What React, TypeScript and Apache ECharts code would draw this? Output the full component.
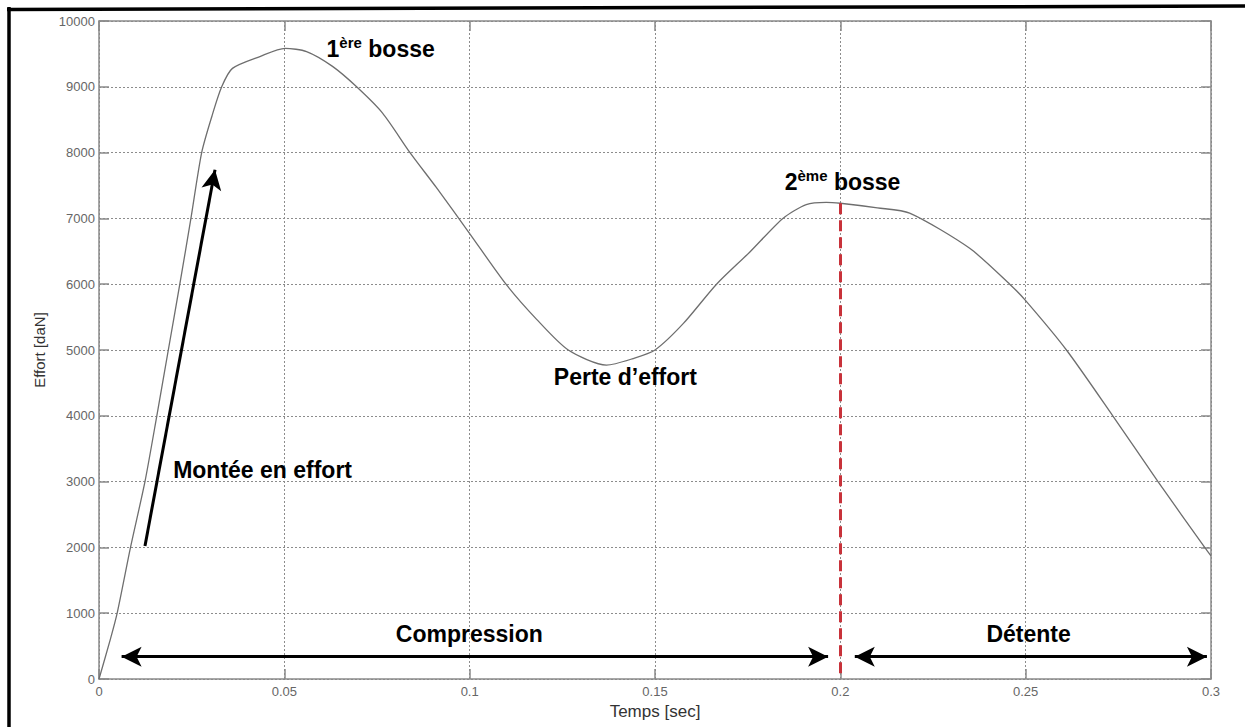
import { useEffect, useRef } from "react";
import * as echarts from "echarts";

// Force measured on the shock absorber over one stroke
const TIME = [
  0, 0.003, 0.0049, 0.0085, 0.0124, 0.0156, 0.0187, 0.0218, 0.0248, 0.0277,
  0.0305, 0.0331, 0.036, 0.0434, 0.0502, 0.056, 0.063, 0.0695, 0.0765, 0.0839,
  0.091, 0.1, 0.1098, 0.118, 0.1266, 0.1369, 0.1441, 0.15, 0.1576, 0.1666,
  0.1756, 0.1845, 0.1908, 0.1962, 0.2, 0.21, 0.2187, 0.2349, 0.2457, 0.25,
  0.261, 0.2735, 0.2857, 0.2983, 0.3,
];
const EFFORT = [
  0, 590, 1000, 2000, 3000, 4000, 5000, 6000, 7000, 8000,
  8560, 9000, 9280, 9460, 9585, 9535, 9310, 9000, 8600, 8000,
  7470, 6770, 6000, 5470, 5000, 4770, 4870, 5000, 5400, 6000,
  6490, 7000, 7210, 7245, 7230, 7160, 7080, 6545, 6000, 5750,
  5000, 4000, 3000, 2000, 1870,
];

const X_TICKS = [0, 0.05, 0.1, 0.15, 0.2, 0.25, 0.3];
const Y_TICKS = [0, 1000, 2000, 3000, 4000, 5000, 6000, 7000, 8000, 9000, 10000];

// Annotation anchors, in data units (time, effort)
const RISE_ARROW = [
  [0.0124, 2020],
  [0.0313, 7740],
];
const COMPRESSION_SPAN = [0.0061, 0.1967];
const DETENTE_SPAN = [0.2039, 0.2989];
const SPAN_LEVEL = 340;
const SPLIT_TIME = 0.2;
const SPLIT_EFFORT = 7230;

const LABELS = [
  { text: "Montée en effort", at: [0.02, 3170], align: "left" },
  { text: "{b|1}{s|ère}{b| bosse}", at: [0.0614, 9582], align: "left" },
  { text: "{b|2}{s|ème}{b| bosse}", at: [0.185, 7547], align: "left" },
  { text: "Perte d’effort", at: [0.1227, 4597], align: "left" },
  { text: "Compression", at: [0.0999, 684], align: "center" },
  { text: "Détente", at: [0.2508, 688], align: "center" },
];

const FONT = "'Liberation Sans', Arial, Helvetica, sans-serif";
const AXIS_GRAY = "#8a8a8a";

export default function App() {
  const ref = useRef<HTMLDivElement>(null);

  useEffect(() => {
    if (!ref.current) return;
    const chart = echarts.init(ref.current, undefined, { renderer: "svg" });

    const xMin = X_TICKS[0];
    const xMax = X_TICKS[X_TICKS.length - 1];
    const xStep = X_TICKS[1] - X_TICKS[0];
    const yMin = Y_TICKS[0];
    const yMax = Y_TICKS[Y_TICKS.length - 1];
    const yStep = Y_TICKS[1] - Y_TICKS[0];

    const tick = { show: true, inside: true, length: 10, lineStyle: { color: AXIS_GRAY, width: 1.5 } };
    const axisLine = { show: true, onZero: false, lineStyle: { color: AXIS_GRAY, width: 1.5 } };
    const grid = { show: true, lineStyle: { color: "#8c8c8c", width: 1, type: [2, 2] as number[] } };
    const tickLabel = { color: "#666", fontFamily: FONT, fontSize: 13 };

    const arrowLine = { color: "#000", width: 3, type: "solid" as const };

    const option: echarts.EChartsCoreOption = {
      animation: false,
      backgroundColor: "#fff",
      grid: { left: 99, right: 34, top: 21, bottom: 48 },
      xAxis: [
        {
          type: "value",
          min: xMin,
          max: xMax,
          interval: xStep,
          name: "Temps [sec]",
          nameLocation: "middle",
          nameGap: 22,
          nameTextStyle: { color: "#333", fontFamily: FONT, fontSize: 17 },
          axisLine,
          axisTick: tick,
          axisLabel: { ...tickLabel, margin: 6, formatter: (v: number) => String(v) },
          splitLine: grid,
        },
        {
          type: "value",
          position: "top",
          min: xMin,
          max: xMax,
          interval: xStep,
          axisLine,
          axisTick: tick,
          axisLabel: { show: false },
          splitLine: { show: false },
        },
      ],
      yAxis: [
        {
          type: "value",
          min: yMin,
          max: yMax,
          interval: yStep,
          name: "Effort [daN]",
          nameLocation: "middle",
          nameRotate: 90,
          nameGap: 52,
          nameTextStyle: { color: "#333", fontFamily: FONT, fontSize: 15 },
          axisLine,
          axisTick: tick,
          axisLabel: { ...tickLabel, margin: 4, formatter: (v: number) => String(v) },
          splitLine: grid,
        },
        {
          type: "value",
          position: "right",
          min: yMin,
          max: yMax,
          interval: yStep,
          axisLine,
          axisTick: tick,
          axisLabel: { show: false },
          splitLine: { show: false },
        },
      ],
      series: [
        {
          type: "line",
          data: TIME.map((t, i) => [t, EFFORT[i]]),
          showSymbol: false,
          smooth: 0.25,
          lineStyle: { color: "#6e6e6e", width: 1.3 },
          z: 3,
          markLine: {
            silent: true,
            animation: false,
            label: { show: false },
            emphasis: { disabled: true },
            data: [
              [
                { coord: [SPLIT_TIME, SPLIT_EFFORT], symbol: "none", lineStyle: { color: "#c8323a", width: 3, type: [11, 6] } },
                { coord: [SPLIT_TIME, 0], symbol: "none" },
              ],
              [
                { coord: RISE_ARROW[0], symbol: "none", lineStyle: arrowLine },
                { coord: RISE_ARROW[1], symbol: "arrow", symbolSize: [15, 20] },
              ],
              [
                { coord: [COMPRESSION_SPAN[0], SPAN_LEVEL], symbol: "arrow", symbolSize: [15, 20], lineStyle: arrowLine },
                { coord: [COMPRESSION_SPAN[1], SPAN_LEVEL], symbol: "arrow", symbolSize: [15, 20] },
              ],
              [
                { coord: [DETENTE_SPAN[0], SPAN_LEVEL], symbol: "arrow", symbolSize: [15, 20], lineStyle: arrowLine },
                { coord: [DETENTE_SPAN[1], SPAN_LEVEL], symbol: "arrow", symbolSize: [15, 20] },
              ],
            ],
          },
        },
      ],
    };

    chart.setOption(option);

    const textStyleBase = {
      fill: "#000",
      fontFamily: FONT,
      fontSize: 23,
      fontWeight: "bold",
      verticalAlign: "middle",
      rich: {
        b: { fontFamily: FONT, fontSize: 23, fontWeight: "bold", fill: "#000", lineHeight: 28 },
        s: { fontFamily: FONT, fontSize: 15, fontWeight: "bold", fill: "#000", lineHeight: 14, verticalAlign: "top" },
      },
    };

    const labelGraphics = LABELS.map((l) => {
      const [px, py] = chart.convertToPixel({ xAxisIndex: 0, yAxisIndex: 0 }, l.at) as number[];
      return {
        type: "text",
        x: px,
        y: py,
        z: 10,
        silent: true,
        style: { ...textStyleBase, text: l.text, align: l.align },
      };
    });

    // Thick outer frame (left and top edges)
    const frame = [
      { type: "line", silent: true, z: 20, shape: { x1: 9, y1: 7, x2: 9, y2: 727 }, style: { stroke: "#000", lineWidth: 3.5 } },
      { type: "line", silent: true, z: 20, shape: { x1: 7, y1: 9.5, x2: 1245, y2: 6 }, style: { stroke: "#000", lineWidth: 3.5 } },
    ];

    chart.setOption({ graphic: [...frame, ...labelGraphics] });

    return () => chart.dispose();
  }, []);

  return (
    <div
      ref={ref}
      style={{ position: "fixed", left: 0, top: 0, width: 1245, height: 727, background: "#fff" }}
    />
  );
}
